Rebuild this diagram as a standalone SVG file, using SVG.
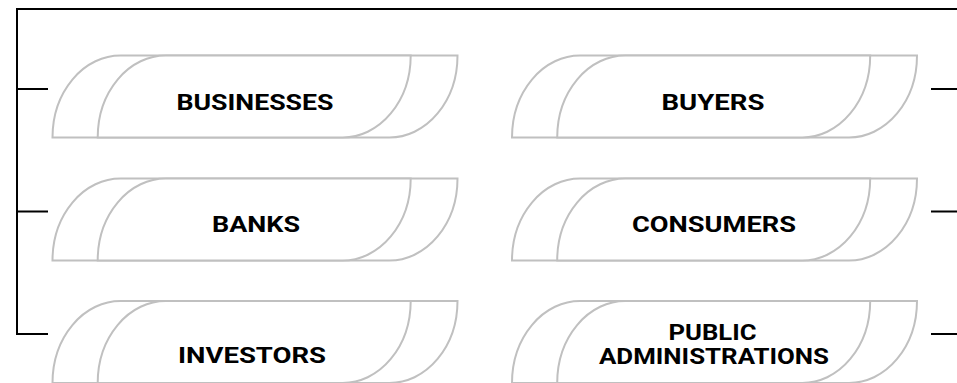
<svg xmlns="http://www.w3.org/2000/svg" width="957" height="383" viewBox="0 0 957 383">
<style>
.sh{fill:#fff;stroke:#c0c0c0;stroke-width:2}
.ln{fill:none;stroke:#000;stroke-width:2}
.t{font-family:Roboto,"Liberation Sans",sans-serif;font-weight:bold;font-size:22px;fill:#000;text-anchor:middle}
</style>
<defs>
<g id="tab">
<path class="sh" d="M52.5,82 A68,82 0 0 1 120.5,0 H457.5 A68,82 0 0 1 389.5,82 Z"/>
<path class="sh" d="M97.7,82 A68,82 0 0 1 165.7,0 H410.7 A68,82 0 0 1 342.7,82 Z"/>
</g>
</defs>
<rect width="957" height="383" fill="#fff"/>
<g id="connectors">
<path class="ln" d="M957,9 H17 V334 H48"/>
<path class="ln" d="M17,89 H48"/>
<path class="ln" d="M17,211.5 H48"/>
<path class="ln" d="M931,89 H957"/>
<path class="ln" d="M931,211.5 H957"/>
<path class="ln" d="M931,334 H957"/>
</g>
<g id="businesses"><use href="#tab" x="0" y="55.5"/><text class="t" x="255" y="110" textLength="157" lengthAdjust="spacingAndGlyphs">BUSINESSES</text></g>
<g id="banks"><use href="#tab" x="0" y="178.5"/><text class="t" x="256" y="232" textLength="88" lengthAdjust="spacingAndGlyphs">BANKS</text></g>
<g id="investors"><use href="#tab" x="0" y="301"/><text class="t" x="252" y="363" textLength="148" lengthAdjust="spacingAndGlyphs">INVESTORS</text></g>
<g id="buyers"><use href="#tab" x="459.5" y="55.5"/><text class="t" x="713" y="110" textLength="103" lengthAdjust="spacingAndGlyphs">BUYERS</text></g>
<g id="consumers"><use href="#tab" x="459.5" y="178.5"/><text class="t" x="714" y="232" textLength="164" lengthAdjust="spacingAndGlyphs">CONSUMERS</text></g>
<g id="public-administrations"><use href="#tab" x="459.5" y="301"/><text class="t" x="712.5" y="340" textLength="88" lengthAdjust="spacingAndGlyphs">PUBLIC</text><text class="t" x="714" y="364" textLength="230" lengthAdjust="spacingAndGlyphs">ADMINISTRATIONS</text></g>
</svg>
